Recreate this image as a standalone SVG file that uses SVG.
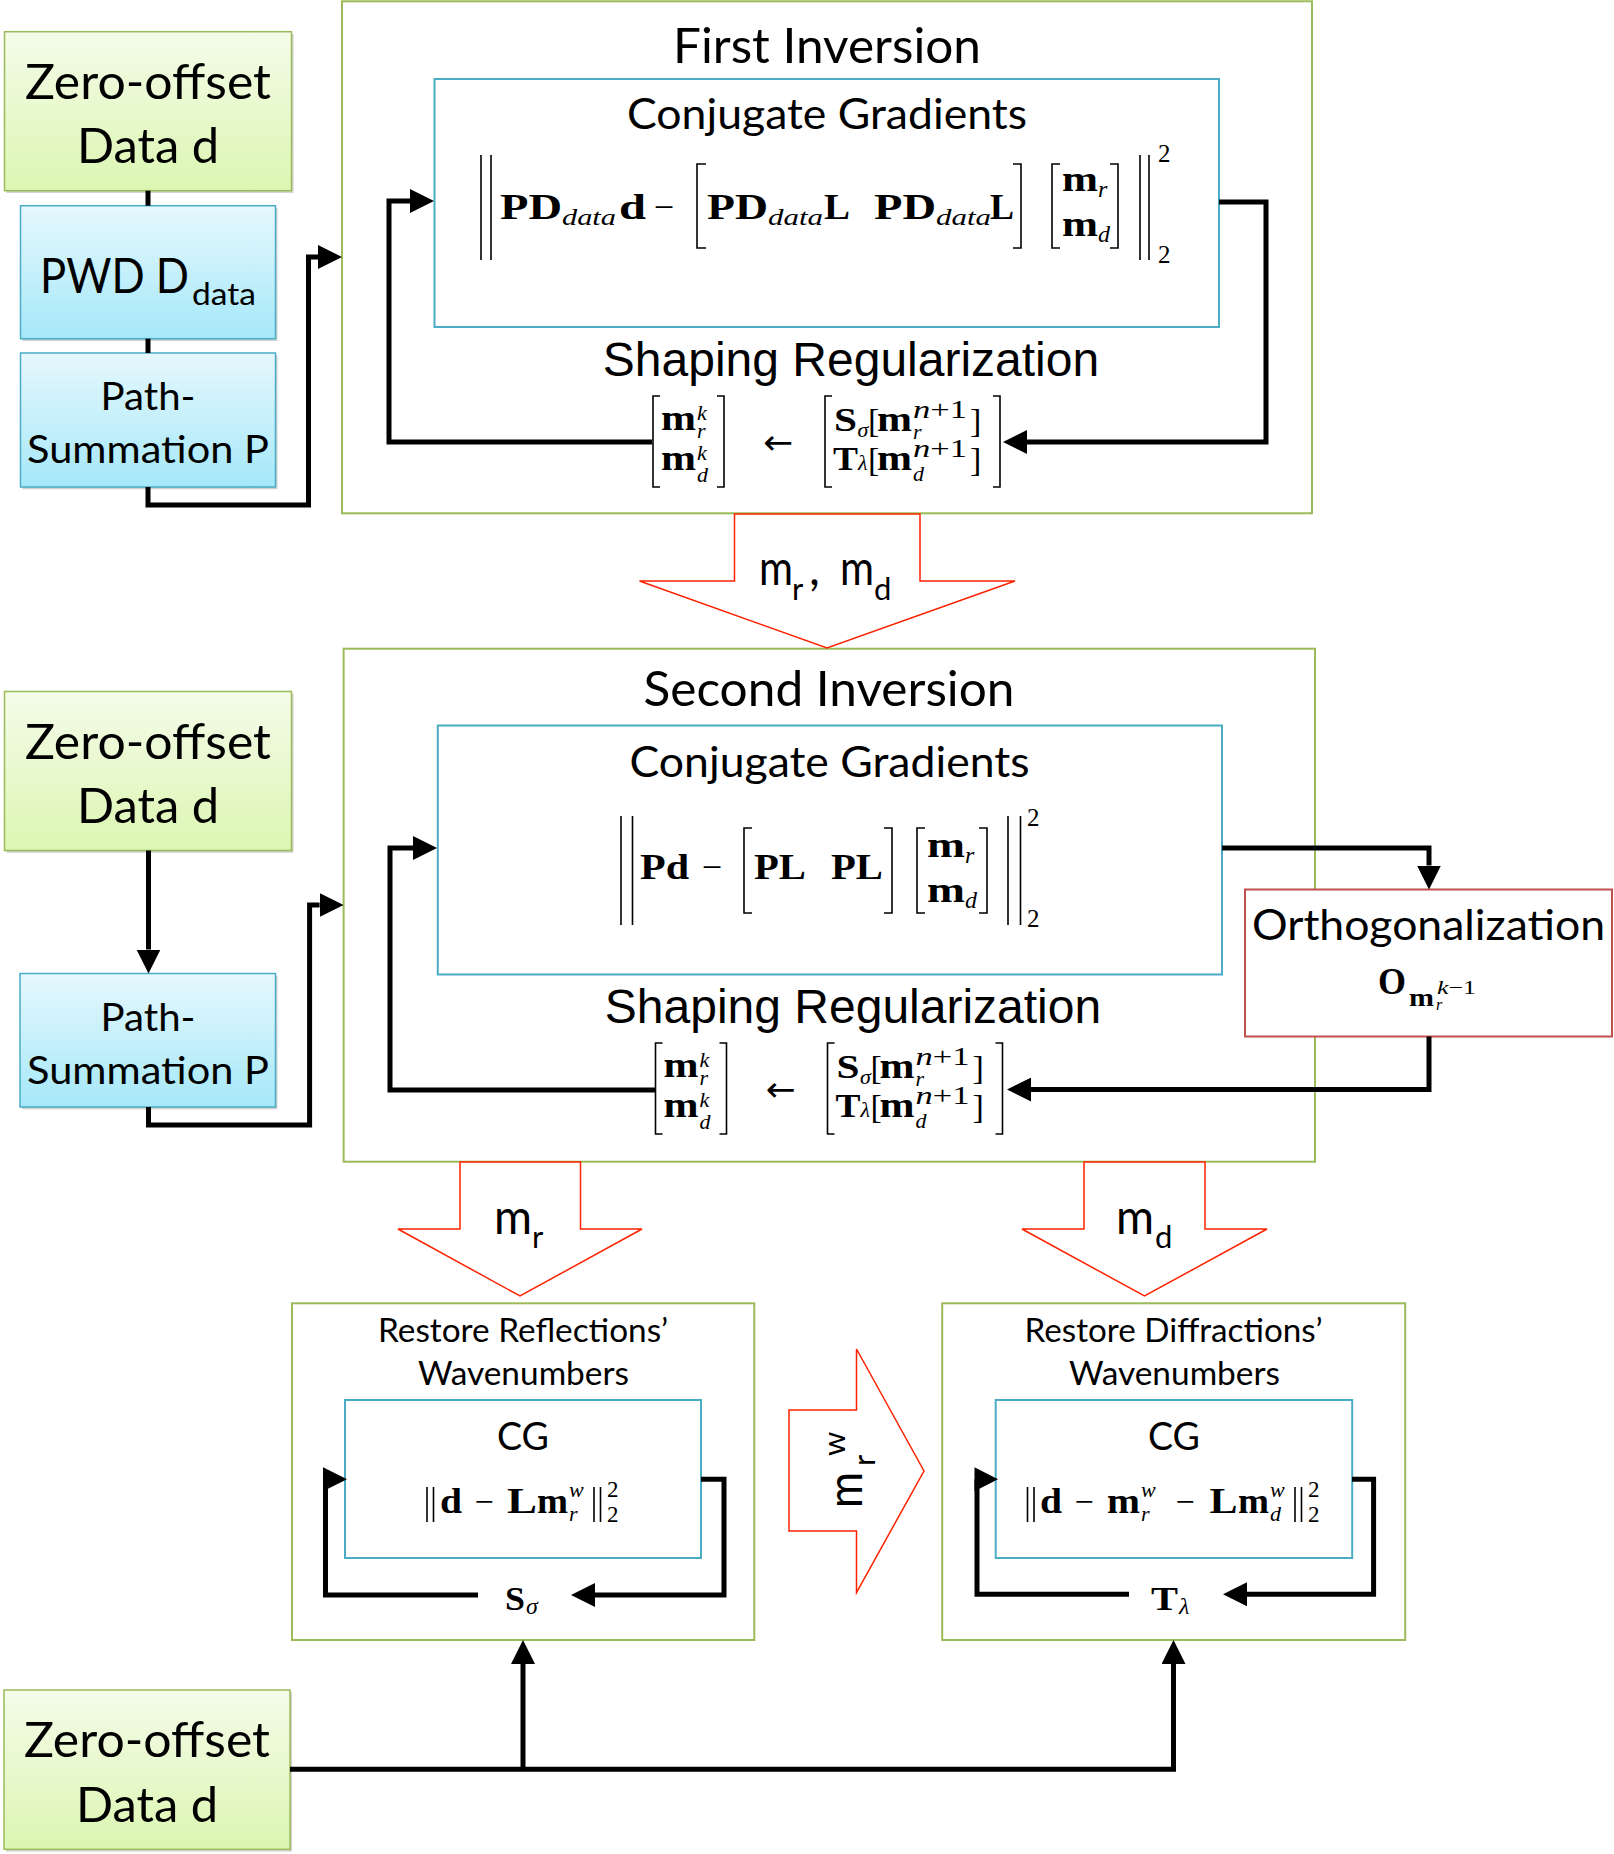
<svg xmlns="http://www.w3.org/2000/svg" width="1614" height="1854" viewBox="0 0 1614 1854">
<defs>
<linearGradient id="gG" x1="0" y1="0" x2="0" y2="1"><stop offset="0" stop-color="#F4FCE9"/><stop offset="1" stop-color="#DCF6B2"/></linearGradient>
<linearGradient id="gB" x1="0" y1="0" x2="0" y2="1"><stop offset="0" stop-color="#E6F8FD"/><stop offset="1" stop-color="#A5E8F9"/></linearGradient>
<marker id="ah" markerUnits="userSpaceOnUse" markerWidth="24" markerHeight="24" refX="0" refY="12" orient="auto" viewBox="0 0 24 24"><path d="M0,0 L24,12 L0,24 z" fill="#000"/></marker>
</defs>
<style>
.gbox{fill:url(#gG);stroke:#9BBB59;stroke-width:1.5}
.bbox{fill:url(#gB);stroke:#4BACC6;stroke-width:1.5}
.shadow{fill:#000;opacity:.18}
.frame{fill:#fff;stroke:#9BBB59;stroke-width:2}
.cg{fill:none;stroke:#4BACC6;stroke-width:2}
.orth{fill:#fff;stroke:#C0504D;stroke-width:2}
.red{fill:#fff;stroke:#FF2200;stroke-width:1.5;stroke-linejoin:miter}
.conn{fill:none;stroke:#000;stroke-width:5;stroke-linejoin:miter}
.ah{fill:#000}
.delim{fill:none;stroke:#000;stroke-width:1.6}
text{fill:#000}
.c{font-family:Lato,"Open Sans",sans-serif}
.a{font-family:"Liberation Sans",Arial,sans-serif}
.mb{font-family:"Liberation Serif","Times New Roman",serif;font-weight:bold}
.mi{font-family:"Liberation Serif","Times New Roman",serif;font-style:italic}
.mr{font-family:"Liberation Serif","Times New Roman",serif}
.arw{font-family:"DejaVu Sans",sans-serif}
</style>

<!-- Zero-offset data (1) -->
<g id="zero1">
<rect class="shadow" x="6.5" y="34" width="287" height="159"/>
<rect class="gbox" x="4.5" y="31.7" width="287" height="159"/>
<text class="c" x="148" y="99" font-size="48" text-anchor="middle" textLength="246" lengthAdjust="spacingAndGlyphs">Zero-offset</text>
<text class="c" x="148" y="163" font-size="48" text-anchor="middle" textLength="142" lengthAdjust="spacingAndGlyphs">Data d</text>
</g>

<g id="pwd">
<rect class="shadow" x="22.5" y="208" width="255" height="133"/>
<rect class="bbox" x="20.5" y="205.7" width="255" height="133"/>
<text class="c" x="40" y="293" font-size="48" textLength="149" lengthAdjust="spacingAndGlyphs">PWD D</text>
<text class="c" x="192" y="305" font-size="31" textLength="64" lengthAdjust="spacingAndGlyphs">data</text>
</g>

<g id="path1">
<rect class="shadow" x="22.5" y="355.3" width="255" height="134"/>
<rect class="bbox" x="20.5" y="353" width="255" height="134"/>
<text class="c" x="148" y="410" font-size="39.5" text-anchor="middle" textLength="95" lengthAdjust="spacingAndGlyphs">Path-</text>
<text class="c" x="148" y="463" font-size="39.5" text-anchor="middle" textLength="242" lengthAdjust="spacingAndGlyphs">Summation P</text>
</g>

<!-- First Inversion -->
<g id="first-inversion">
<rect class="frame" x="342" y="1.3" width="970" height="512"/>
<text class="c" x="827" y="63" font-size="48" text-anchor="middle" textLength="308" lengthAdjust="spacingAndGlyphs">First Inversion</text>
<text class="a" x="851" y="376" font-size="48" text-anchor="middle">Shaping Regularization</text>
<g id="fi-shaping">
<path class="delim" d="M660,396 H653 V487 H660 M717,396 H724 V487 H717"/>
<text class="mb" x="661" y="430" font-size="36" textLength="35" lengthAdjust="spacingAndGlyphs">m</text>
<text class="mi" x="697" y="420" font-size="22">k</text>
<text class="mi" x="697" y="438" font-size="22">r</text>
<text class="mb" x="661" y="470" font-size="36" textLength="35" lengthAdjust="spacingAndGlyphs">m</text>
<text class="mi" x="697" y="460" font-size="22">k</text>
<text class="mi" x="697" y="482" font-size="22">d</text>
<text class="arw" x="763" y="454" font-size="34" textLength="30" lengthAdjust="spacingAndGlyphs">←</text>
<path class="delim" d="M832,396 H825 V487 H832 M993,396 H1000 V487 H993"/>
<text class="mb" x="834" y="431" font-size="34" textLength="23" lengthAdjust="spacingAndGlyphs">S</text>
<text class="mi" x="857.5" y="437" font-size="22">σ</text>
<text class="mr" x="868" y="432" font-size="34">[</text>
<text class="mb" x="877" y="431" font-size="36" textLength="35" lengthAdjust="spacingAndGlyphs">m</text>
<text class="mi" x="913" y="418" font-size="25" textLength="54" lengthAdjust="spacingAndGlyphs">n<tspan class="mr" font-style="normal">+1</tspan></text>
<text class="mi" x="913" y="439" font-size="22">r</text>
<text class="mr" x="970" y="432" font-size="34">]</text>
<text class="mb" x="833" y="470" font-size="34" textLength="25" lengthAdjust="spacingAndGlyphs">T</text>
<text class="mi" x="858" y="470" font-size="22">λ</text>
<text class="mr" x="868" y="471" font-size="34">[</text>
<text class="mb" x="877" y="470" font-size="36" textLength="35" lengthAdjust="spacingAndGlyphs">m</text>
<text class="mi" x="913" y="457" font-size="25" textLength="54" lengthAdjust="spacingAndGlyphs">n<tspan class="mr" font-style="normal">+1</tspan></text>
<text class="mi" x="913" y="481" font-size="22">d</text>
<text class="mr" x="970" y="471" font-size="34">]</text>
</g>
</g>

<g id="fi-cg">
<rect class="cg" x="434.5" y="79" width="784.5" height="248"/>
<text class="c" x="827" y="129" font-size="43" text-anchor="middle" textLength="400" lengthAdjust="spacingAndGlyphs">Conjugate Gradients</text>
<path class="delim" d="M481,155 V260 M491,155 V260 M1140,155 V260 M1149,155 V260"/>
<text class="mb" x="500" y="219" font-size="36" textLength="62" lengthAdjust="spacingAndGlyphs">PD</text>
<text class="mi" x="562" y="225" font-size="24" textLength="54" lengthAdjust="spacingAndGlyphs">data</text>
<text class="mb" x="619" y="219" font-size="36" textLength="27" lengthAdjust="spacingAndGlyphs">d</text>
<text class="mr" x="664" y="219" font-size="36" text-anchor="middle">−</text>
<path class="delim" d="M706,164 H697 V248 H706 M1013,164 H1021 V248 H1013"/>
<text class="mb" x="707" y="219" font-size="36" textLength="61" lengthAdjust="spacingAndGlyphs">PD</text>
<text class="mi" x="768" y="225" font-size="24" textLength="55" lengthAdjust="spacingAndGlyphs">data</text>
<text class="mb" x="824" y="219" font-size="36" textLength="26" lengthAdjust="spacingAndGlyphs">L</text>
<text class="mb" x="874" y="219" font-size="36" textLength="62" lengthAdjust="spacingAndGlyphs">PD</text>
<text class="mi" x="936" y="225" font-size="24" textLength="55" lengthAdjust="spacingAndGlyphs">data</text>
<text class="mb" x="990" y="219" font-size="36" textLength="24" lengthAdjust="spacingAndGlyphs">L</text>
<path class="delim" d="M1060,164 H1052 V248 H1060 M1110,164 H1118 V248 H1110"/>
<text class="mb" x="1062" y="191" font-size="36" textLength="36" lengthAdjust="spacingAndGlyphs">m</text>
<text class="mi" x="1098" y="197" font-size="24">r</text>
<text class="mb" x="1062" y="236" font-size="36" textLength="36" lengthAdjust="spacingAndGlyphs">m</text>
<text class="mi" x="1098" y="242" font-size="24">d</text>
<text class="mr" x="1158" y="162" font-size="25">2</text>
<text class="mr" x="1158" y="263" font-size="25">2</text>
</g>

<!-- Second Inversion -->
<g id="zero2">
<rect class="shadow" x="6.5" y="693.8" width="287" height="159"/>
<rect class="gbox" x="4.5" y="691.5" width="287" height="159"/>
<text class="c" x="148" y="758.5" font-size="48" text-anchor="middle" textLength="246" lengthAdjust="spacingAndGlyphs">Zero-offset</text>
<text class="c" x="148" y="823" font-size="48" text-anchor="middle" textLength="142" lengthAdjust="spacingAndGlyphs">Data d</text>
</g>

<g id="path2">
<rect class="shadow" x="22" y="975.8" width="255.5" height="133.5"/>
<rect class="bbox" x="20" y="973.5" width="255.5" height="133.5"/>
<text class="c" x="148" y="1031" font-size="39.5" text-anchor="middle" textLength="95" lengthAdjust="spacingAndGlyphs">Path-</text>
<text class="c" x="148" y="1083.5" font-size="39.5" text-anchor="middle" textLength="242" lengthAdjust="spacingAndGlyphs">Summation P</text>
</g>

<g id="second-inversion">
<rect class="frame" x="343.6" y="648.7" width="971.4" height="513"/>
<text class="c" x="829" y="706" font-size="48" text-anchor="middle" textLength="371" lengthAdjust="spacingAndGlyphs">Second Inversion</text>
<text class="a" x="853" y="1023" font-size="48" text-anchor="middle">Shaping Regularization</text>
<g id="si-shaping" transform="translate(2.5,647)">
<path class="delim" d="M660,396 H653 V487 H660 M717,396 H724 V487 H717"/>
<text class="mb" x="661" y="430" font-size="36" textLength="35" lengthAdjust="spacingAndGlyphs">m</text>
<text class="mi" x="697" y="420" font-size="22">k</text>
<text class="mi" x="697" y="438" font-size="22">r</text>
<text class="mb" x="661" y="470" font-size="36" textLength="35" lengthAdjust="spacingAndGlyphs">m</text>
<text class="mi" x="697" y="460" font-size="22">k</text>
<text class="mi" x="697" y="482" font-size="22">d</text>
<text class="arw" x="763" y="454" font-size="34" textLength="30" lengthAdjust="spacingAndGlyphs">←</text>
<path class="delim" d="M832,396 H825 V487 H832 M993,396 H1000 V487 H993"/>
<text class="mb" x="834" y="431" font-size="34" textLength="23" lengthAdjust="spacingAndGlyphs">S</text>
<text class="mi" x="857.5" y="437" font-size="22">σ</text>
<text class="mr" x="868" y="432" font-size="34">[</text>
<text class="mb" x="877" y="431" font-size="36" textLength="35" lengthAdjust="spacingAndGlyphs">m</text>
<text class="mi" x="913" y="418" font-size="25" textLength="54" lengthAdjust="spacingAndGlyphs">n<tspan class="mr" font-style="normal">+1</tspan></text>
<text class="mi" x="913" y="439" font-size="22">r</text>
<text class="mr" x="970" y="432" font-size="34">]</text>
<text class="mb" x="833" y="470" font-size="34" textLength="25" lengthAdjust="spacingAndGlyphs">T</text>
<text class="mi" x="858" y="470" font-size="22">λ</text>
<text class="mr" x="868" y="471" font-size="34">[</text>
<text class="mb" x="877" y="470" font-size="36" textLength="35" lengthAdjust="spacingAndGlyphs">m</text>
<text class="mi" x="913" y="457" font-size="25" textLength="54" lengthAdjust="spacingAndGlyphs">n<tspan class="mr" font-style="normal">+1</tspan></text>
<text class="mi" x="913" y="481" font-size="22">d</text>
<text class="mr" x="970" y="471" font-size="34">]</text>
</g>
</g>

<g id="si-cg">
<rect class="cg" x="437.8" y="725.5" width="784.2" height="249"/>
<text class="c" x="829.5" y="777" font-size="43" text-anchor="middle" textLength="400" lengthAdjust="spacingAndGlyphs">Conjugate Gradients</text>
<path class="delim" d="M621,816 V925 M632.5,816 V925 M1008,816 V925 M1020.5,816 V925"/>
<text class="mb" x="640" y="879" font-size="36" textLength="49" lengthAdjust="spacingAndGlyphs">Pd</text>
<text class="mr" x="712" y="879" font-size="36" text-anchor="middle">−</text>
<path class="delim" d="M752,828 H744 V913 H752 M884,828 H892 V913 H884"/>
<text class="mb" x="754" y="879" font-size="36" textLength="52" lengthAdjust="spacingAndGlyphs">PL</text>
<text class="mb" x="831" y="879" font-size="36" textLength="52" lengthAdjust="spacingAndGlyphs">PL</text>
<path class="delim" d="M925,828 H917 V913 H925 M979,828 H987 V913 H979"/>
<text class="mb" x="927" y="857" font-size="36" textLength="38" lengthAdjust="spacingAndGlyphs">m</text>
<text class="mi" x="965" y="863" font-size="24">r</text>
<text class="mb" x="927" y="902" font-size="36" textLength="38" lengthAdjust="spacingAndGlyphs">m</text>
<text class="mi" x="965" y="908" font-size="24">d</text>
<text class="mr" x="1027" y="826" font-size="25">2</text>
<text class="mr" x="1027" y="927" font-size="25">2</text>
</g>

<g id="orthogonalization">
<rect class="orth" x="1245" y="889.5" width="367" height="147"/>
<text class="c" x="1428.5" y="940" font-size="42.5" text-anchor="middle" textLength="353" lengthAdjust="spacingAndGlyphs">Orthogonalization</text>
<text class="mb" x="1378" y="994" font-size="38" textLength="28" lengthAdjust="spacingAndGlyphs">O</text>
<text class="mb" x="1409" y="1006" font-size="25" textLength="25" lengthAdjust="spacingAndGlyphs">m</text>
<text class="mi" x="1436" y="1010" font-size="16">r</text>
<text class="mi" x="1437" y="994" font-size="19" textLength="39" lengthAdjust="spacingAndGlyphs">k<tspan class="mr" font-style="normal">−1</tspan></text>
</g>

<!-- Bottom -->
<g id="restore-reflections">
<rect class="frame" x="292" y="1303.3" width="462.3" height="336.7"/>
<text class="c" x="523" y="1342.3" font-size="32" text-anchor="middle" textLength="290" lengthAdjust="spacingAndGlyphs">Restore Reflections’</text>
<text class="c" x="523.5" y="1385" font-size="32" text-anchor="middle" textLength="211" lengthAdjust="spacingAndGlyphs">Wavenumbers</text>
<text class="mb" x="505" y="1610" font-size="34" textLength="20" lengthAdjust="spacingAndGlyphs">S</text>
<text class="mi" x="526" y="1614" font-size="24">σ</text>
</g>
<g id="rr-cg">
<rect class="cg" x="345" y="1400" width="356" height="158"/>
<text class="c" x="523" y="1450" font-size="39.5" text-anchor="middle" textLength="52" lengthAdjust="spacingAndGlyphs">CG</text>
<path class="delim" d="M427,1487 V1522 M433.5,1487 V1522 M594,1487 V1522 M600.5,1487 V1522"/>
<text class="mb" x="440" y="1513" font-size="36" textLength="22" lengthAdjust="spacingAndGlyphs">d</text>
<text class="mr" x="484" y="1513" font-size="34" text-anchor="middle">−</text>
<text class="mb" x="507" y="1513" font-size="36" textLength="30" lengthAdjust="spacingAndGlyphs">L</text>
<text class="mb" x="537" y="1513" font-size="36" textLength="31" lengthAdjust="spacingAndGlyphs">m</text>
<text class="mi" x="569" y="1497" font-size="22">w</text>
<text class="mi" x="569" y="1521" font-size="22">r</text>
<text class="mr" x="607" y="1497" font-size="23">2</text>
<text class="mr" x="607" y="1522" font-size="23">2</text>
</g>

<g id="restore-diffractions">
<rect class="frame" x="942.2" y="1303.3" width="463" height="336.7"/>
<text class="c" x="1173.5" y="1342.3" font-size="32" text-anchor="middle" textLength="298" lengthAdjust="spacingAndGlyphs">Restore Diffractions’</text>
<text class="c" x="1174.5" y="1385" font-size="32" text-anchor="middle" textLength="211" lengthAdjust="spacingAndGlyphs">Wavenumbers</text>
<text class="mb" x="1151" y="1610" font-size="34" textLength="27" lengthAdjust="spacingAndGlyphs">T</text>
<text class="mi" x="1179" y="1614" font-size="24">λ</text>
</g>
<g id="rd-cg">
<rect class="cg" x="995.7" y="1400" width="356.5" height="158"/>
<text class="c" x="1174" y="1450" font-size="39.5" text-anchor="middle" textLength="52" lengthAdjust="spacingAndGlyphs">CG</text>
<path class="delim" d="M1027.5,1487 V1522 M1034,1487 V1522 M1295,1487 V1522 M1301.5,1487 V1522"/>
<text class="mb" x="1040" y="1513" font-size="36" textLength="22" lengthAdjust="spacingAndGlyphs">d</text>
<text class="mr" x="1084" y="1513" font-size="34" text-anchor="middle">−</text>
<text class="mb" x="1107" y="1513" font-size="36" textLength="33" lengthAdjust="spacingAndGlyphs">m</text>
<text class="mi" x="1141" y="1497" font-size="22">w</text>
<text class="mi" x="1141" y="1521" font-size="22">r</text>
<text class="mr" x="1185" y="1513" font-size="34" text-anchor="middle">−</text>
<text class="mb" x="1209.5" y="1513" font-size="36" textLength="28" lengthAdjust="spacingAndGlyphs">L</text>
<text class="mb" x="1238" y="1513" font-size="36" textLength="31" lengthAdjust="spacingAndGlyphs">m</text>
<text class="mi" x="1270" y="1497" font-size="22">w</text>
<text class="mi" x="1270" y="1521" font-size="22">d</text>
<text class="mr" x="1308" y="1497" font-size="23">2</text>
<text class="mr" x="1308" y="1522" font-size="23">2</text>
</g>

<g id="zero3">
<rect class="shadow" x="6" y="1692.3" width="286" height="159.3"/>
<rect class="gbox" x="4" y="1690" width="286" height="159.3"/>
<text class="c" x="147" y="1757" font-size="48" text-anchor="middle" textLength="246" lengthAdjust="spacingAndGlyphs">Zero-offset</text>
<text class="c" x="147" y="1821.7" font-size="48" text-anchor="middle" textLength="142" lengthAdjust="spacingAndGlyphs">Data d</text>
</g>

<!-- Connectors -->
<g id="connectors">
<path class="conn" d="M148,190.7 V205.7"/>
<path class="conn" d="M148,338.7 V353"/>
<path class="conn" d="M148,487 V505 H308.5 V257 H318" marker-end="url(#ah)"/>
<path class="conn" d="M652,442 H389 V201 H410" marker-end="url(#ah)"/>
<path class="conn" d="M1219,202 H1266 V442 H1027" marker-end="url(#ah)"/>
<path class="conn" d="M148.5,850.5 V949.5" marker-end="url(#ah)"/>
<path class="conn" d="M148.5,1107 V1125 H309.6 V905 H319.6" marker-end="url(#ah)"/>
<path class="conn" d="M655,1090 H390 V848 H413" marker-end="url(#ah)"/>
<path class="conn" d="M1222,848 H1429 V865.5" marker-end="url(#ah)"/>
<path class="conn" d="M1429,1036.6 V1089.6 H1031" marker-end="url(#ah)"/>
<path class="conn" d="M701,1479.3 H724 V1595 H595" marker-end="url(#ah)"/>
<path class="conn" d="M478,1595 H325.5 V1479.3"/>
<polygon class="ah" points="323,1467.3 347,1479.3 323,1491.3"/>
<path class="conn" d="M1352,1479.3 H1373.6 V1594.3 H1247" marker-end="url(#ah)"/>
<path class="conn" d="M1129,1594.3 H977 V1479.3"/>
<polygon class="ah" points="974.5,1467.3 998,1479.3 974.5,1491.3"/>
<path class="conn" d="M290,1769.3 H1173.5 V1664" marker-end="url(#ah)"/>
<path class="conn" d="M523,1769.3 V1664" marker-end="url(#ah)"/>
</g>

<!-- Block arrows -->
<g id="arrow-mr-md">
<polygon class="red" points="734.5,514 920,514 920,581 1015,581 827,648 639.5,581 734.5,581"/>
<text class="c" x="759" y="585" font-size="48" textLength="34" lengthAdjust="spacingAndGlyphs">m</text>
<text class="c" x="792" y="600" font-size="31">r</text>
<text class="c" x="809" y="585" font-size="48">,</text>
<text class="c" x="840" y="585" font-size="48" textLength="34" lengthAdjust="spacingAndGlyphs">m</text>
<text class="c" x="874" y="600" font-size="31">d</text>
</g>
<g id="arrow-mr">
<polygon class="red" points="460,1162 580.5,1162 580.5,1229 642,1229 520,1296 398,1229 460,1229"/>
<text class="c" x="494" y="1234" font-size="48" textLength="38" lengthAdjust="spacingAndGlyphs">m</text>
<text class="c" x="532" y="1248" font-size="31">r</text>
</g>
<g id="arrow-md">
<polygon class="red" points="1084,1162 1205,1162 1205,1229 1267,1229 1144.5,1296 1022,1229 1084,1229"/>
<text class="c" x="1116" y="1234" font-size="48" textLength="38" lengthAdjust="spacingAndGlyphs">m</text>
<text class="c" x="1155" y="1248" font-size="31">d</text>
</g>
<g id="arrow-mrw">
<polygon class="red" points="789,1410 856.5,1410 856.5,1349 924,1471 856.5,1592.5 856.5,1531 789,1531"/>
<g transform="translate(861.7,1508) rotate(-90)">
<text class="c" x="0" y="0" font-size="48" textLength="36" lengthAdjust="spacingAndGlyphs">m</text>
<text class="c" x="42" y="13" font-size="31">r</text>
<text class="c" x="52" y="-17" font-size="31">w</text>
</g>
</g>
</svg>
